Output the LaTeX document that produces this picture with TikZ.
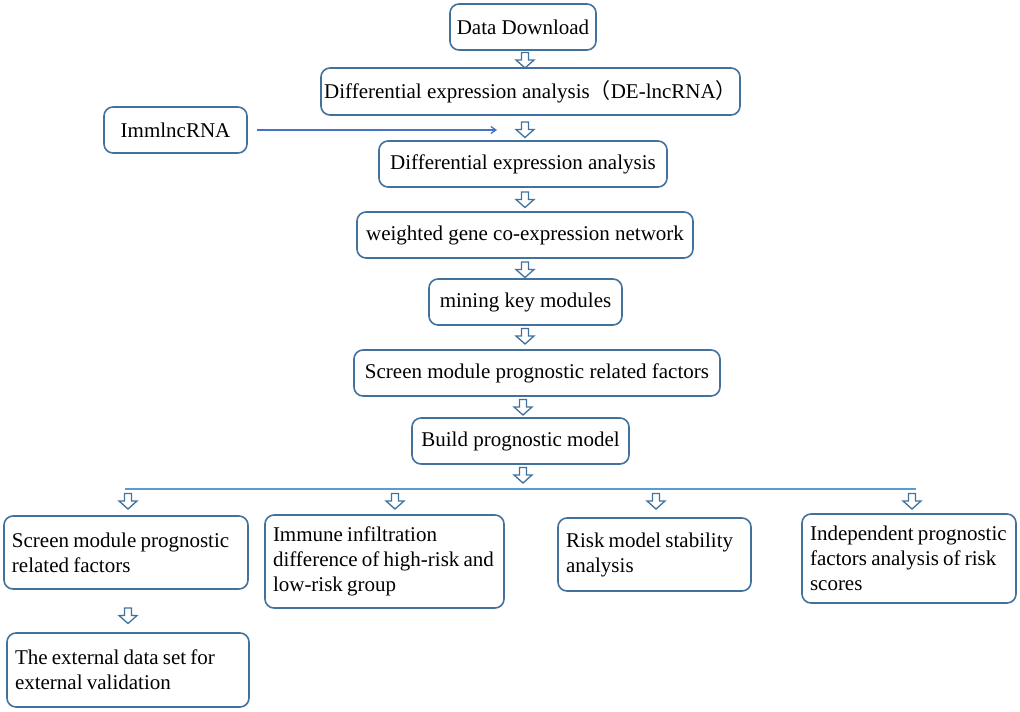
\documentclass[tikz,border=0pt]{standalone}
\usepackage{fontspec}
\setmainfont{Liberation Serif}
\newfontfamily\cjk{Noto Sans CJK SC}
\usetikzlibrary{arrows.meta}
\definecolor{boxblue}{RGB}{65,113,156}
\definecolor{lineblue}{RGB}{91,155,213}
\definecolor{thinblue}{RGB}{68,114,196}
\tikzset{
  box/.style={draw=boxblue, line width=1.6pt, rounded corners=9pt, inner sep=2pt,
    font=\fontsize{21}{25}\selectfont, text=black},
  multibox/.style={box, align=left, inner xsep=8pt,
    execute at begin node={\spaceskip=4.2pt\relax}},
  darr/.pic={\draw[boxblue, line width=1.3pt, line join=miter]
    (-3.5,0) -- (3.5,0) -- (3.5,7.5) -- (9,7.5) -- (0,15.5) -- (-9,7.5) -- (-3.5,7.5) -- cycle;}
}
\begin{document}
\begin{tikzpicture}[x=1pt,y=-1pt]
\useasboundingbox (0,0) rectangle (1020,712);
% main column
\node[box, minimum width=146pt, minimum height=46pt] (dd) at (523,27) {Data Download};
\node[box, minimum width=419pt, minimum height=47pt] (de) at (530.5,91.5) {Differential expression analysis{\cjk （}DE-lncRNA{\cjk ）}};
\node[box, minimum width=143pt, minimum height=46pt] (imm) at (175.5,130) {ImmlncRNA};
\node[box, minimum width=288pt, minimum height=46pt] (diff) at (523,164) {Differential expression analysis};
\node[box, minimum width=336pt, minimum height=46pt] (wgc) at (525,235) {weighted gene co-expression network};
\node[box, minimum width=193pt, minimum height=46pt] (mkm) at (525.5,302) {mining key modules};
\node[box, minimum width=366pt, minimum height=46pt] (smp) at (537,373) {Screen module prognostic related factors};
\node[box, minimum width=217pt, minimum height=46pt] (bpm) at (520.5,441) {Build prognostic model};
% bottom row
\node[multibox, minimum width=244pt, minimum height=73pt, text width=228pt] (b1) at (126,552.5) {\mbox{Screen module prognostic}\\\mbox{related factors}};
\node[multibox, minimum width=239pt, minimum height=93pt, text width=223pt] (b2) at (384.5,561.5) {\mbox{Immune infiltration}\\\mbox{difference of high-risk and}\\\mbox{low-risk group}};
\node[multibox, minimum width=193pt, minimum height=73pt, text width=177pt] (b3) at (654.5,554.5) {\mbox{Risk model stability}\\\mbox{analysis}};
\node[multibox, minimum width=212pt, minimum height=89pt, text width=198pt] (b4) at (909,558.5) {\mbox{Independent prognostic}\\\mbox{factors analysis of risk}\\\mbox{scores}};
\node[multibox, minimum width=242pt, minimum height=74pt, text width=226pt] (ext) at (128,670) {\mbox{The external data set for}\\\mbox{external validation}};
% block arrows
\pic at (525,52.5) {darr};
\pic at (525,122) {darr};
\pic at (525,192) {darr};
\pic at (525,262) {darr};
\pic at (525,328.5) {darr};
\pic at (523,399.5) {darr};
\pic at (523,467.5) {darr};
\pic at (128,493.5) {darr};
\pic at (395,493.5) {darr};
\pic at (656,493.5) {darr};
\pic at (912,493.5) {darr};
\pic at (128,608) {darr};
% connectors
\coordinate (immtip) at (497,130);
\draw[thinblue, line width=1.3pt, -{Straight Barb[length=5pt,width=7pt]}] ([xshift=9pt]imm.east) -- (immtip);
\coordinate (hl) at (125,489);
\coordinate (hr) at (916,489);
\draw[lineblue, line width=2.4pt] (hl) -- (hr);
\end{tikzpicture}
\end{document}
